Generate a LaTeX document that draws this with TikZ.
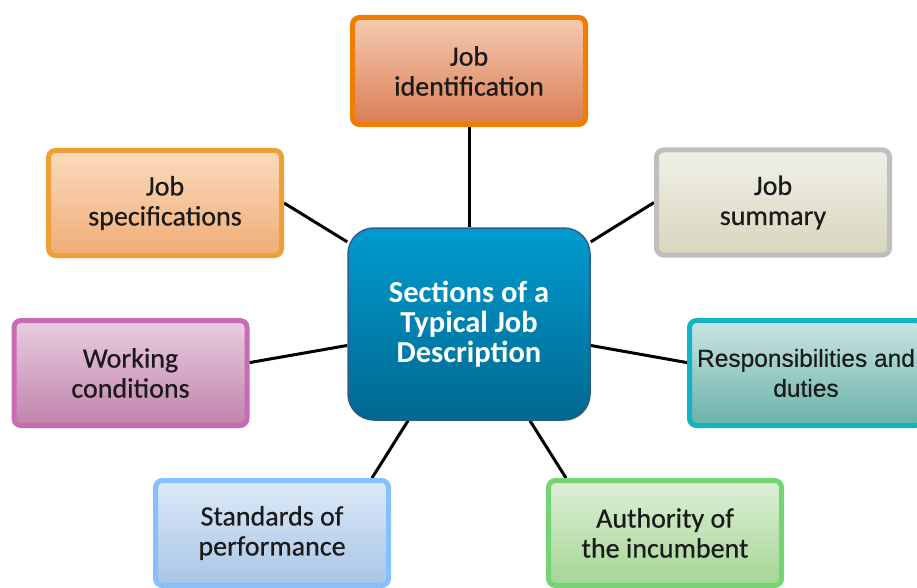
\documentclass[tikz,border=0pt]{standalone}
\usepackage{fontspec}
\setmainfont{Carlito}
\newfontfamily\boxfont[FakeBold=0.5]{Carlito}
\newfontfamily\respfont[FakeBold=0.5]{Liberation Sans}
\usetikzlibrary{backgrounds}
\definecolor{txt}{HTML}{1A1A1A}
\definecolor{hubtop}{HTML}{009BD0}
\definecolor{hubbot}{HTML}{00688F}
\definecolor{hubline}{HTML}{2D5C8C}
\definecolor{identline}{HTML}{F07C00}
\tikzset{
  x=1pt, y=-1pt,
  box/.style={draw, line width=5pt, rounded corners=7pt, inner sep=0pt,
    minimum width=233pt, minimum height=105pt, align=center, text=txt,
    font=\boxfont\fontsize{28}{30}\selectfont, shading=axis},
  hub/.style={draw=#1, line width=1.5pt, rounded corners=26pt, inner sep=0pt,
    minimum width=242pt, minimum height=192pt, align=center, text=white,
    font=\fontsize{30.5}{30}\selectfont\bfseries,
    top color=hubtop, bottom color=hubbot},
  link/.style={line width=3pt, black}
}
\begin{document}
\begin{tikzpicture}
\useasboundingbox (0,0) rectangle (917,588);
\begin{scope}
\clip (0,0) rectangle (917,588);
\node[hub=hubline] (c) at (469,324) {Sections of a\\Typical Job\\Description};
\node[box, draw=identline, top color={rgb,255:red,245;green,203;blue,176}, bottom color={rgb,255:red,218;green,125;blue,85}, minimum height=107pt] (ident) at (469,71) {Job\\identification};
\node[box, draw={rgb,255:red,239;green,160;blue,53}, top color={rgb,255:red,250;green,219;blue,190}, bottom color={rgb,255:red,240;green,172;blue,118}] (spec) at (165,203) {Job\\specifications};
\node[box, draw={rgb,255:red,191;green,191;blue,191}, top color={rgb,255:red,240;green,240;blue,231}, bottom color={rgb,255:red,216;green,214;blue,190}] (summ) at (773,202.5) {Job\\summary};
\node[box, draw={rgb,255:red,199;green,107;blue,181}, top color={rgb,255:red,234;green,205;blue,225}, bottom color={rgb,255:red,192;green,131;blue,171}] (work) at (130.5,373) {Working\\conditions};
\node[box, draw={rgb,255:red,18;green,180;blue,196}, top color={rgb,255:red,202;green,229;blue,227}, bottom color={rgb,255:red,104;green,178;blue,168}, font=\respfont\fontsize{24.5}{30}\selectfont] (resp) at (806,373) {Responsibilities and\\duties};
\node[box, draw={rgb,255:red,133;green,193;blue,255}, top color={rgb,255:red,221;green,233;blue,247}, bottom color={rgb,255:red,168;green,197;blue,230}] (std) at (272,533) {Standards of\\performance};
\node[box, draw={rgb,255:red,116;green,212;blue,115}, top color={rgb,255:red,221;green,239;blue,215}, bottom color={rgb,255:red,164;green,214;blue,148}] (auth) at (665,533) {Authority of\\the incumbent};
\begin{scope}[on background layer]
\draw[link] (ident.south) -- (c.north);
\draw[link] (spec.east) -- (c.146);
\draw[link] (summ.west) -- (c.34);
\draw[link] (work.5) -- (c.190);
\draw[link] (resp.175) -- (c.-10);
\draw[link] ([xshift=100pt]std.north) -- ([xshift=-61pt]c.south);
\draw[link] ([xshift=-99pt]auth.north) -- ([xshift=61pt]c.south);
\end{scope}
\end{scope}
\end{tikzpicture}
\end{document}
